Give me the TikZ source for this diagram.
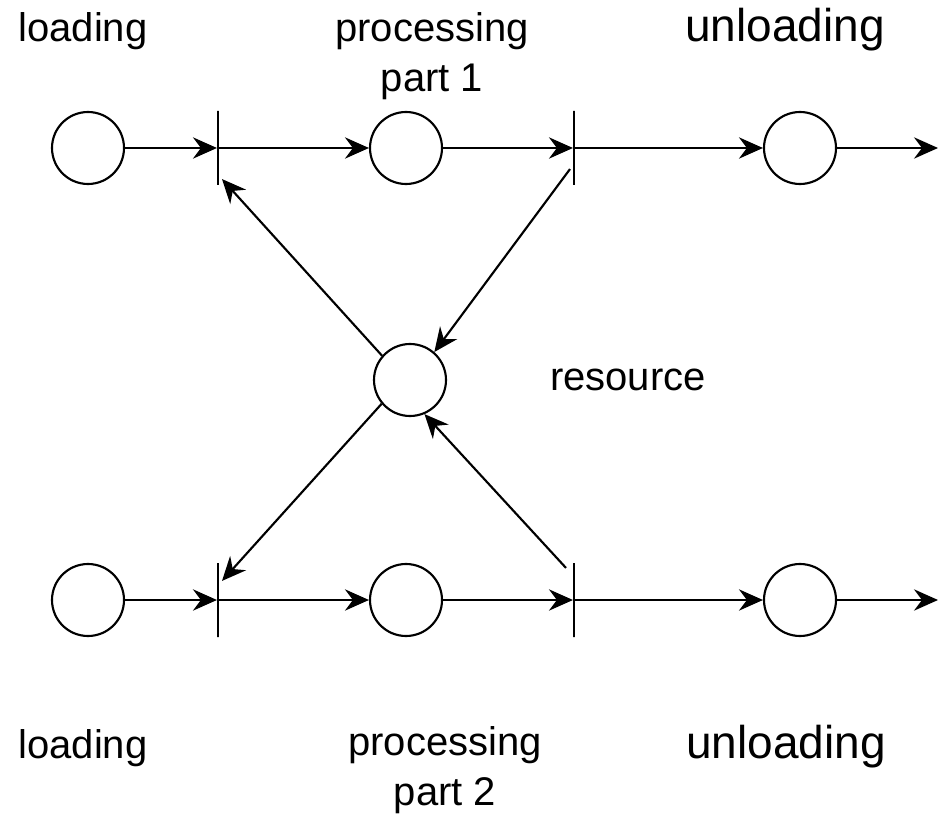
\documentclass[tikz,border=0pt]{standalone}
\usepackage{fontspec}
\setmainfont{Liberation Sans}
\usetikzlibrary{arrows.meta,calc}
\begin{document}
\begin{tikzpicture}[x=0.75pt,y=-0.75pt,
  line width=1.6pt,
  place/.style={circle,draw,minimum size=54pt,inner sep=0pt},
  trans/.style={rectangle,draw,minimum width=0pt,minimum height=55.5pt,inner sep=0pt},
  arr/.style={-{Stealth[length=18pt,width=16pt,inset=6pt]}},
  lbl/.style={font=\fontsize{30}{37.5}\selectfont,align=center,anchor=base,inner sep=0pt},
  biglbl/.style={font=\fontsize{34.5}{42}\selectfont,anchor=base,inner sep=0pt}]
\useasboundingbox (0,0) rectangle (938,816);
% top row
\node[place] (p1) at (88,148) {};
\node[trans] (t1) at (218,148) {};
\node[place] (p2) at (406,148) {};
\node[trans] (t2) at (574,148) {};
\node[place] (p3) at (800,148) {};
\coordinate (o1) at (938,148);
% bottom row
\node[place] (q1) at (88,600) {};
\node[trans] (u1) at (218,600) {};
\node[place] (q2) at (406,600) {};
\node[trans] (u2) at (574,600) {};
\node[place] (q3) at (800,600) {};
\coordinate (o2) at (938,600);
% resource
\node[place] (res) at (410,380) {};
% horizontal arcs
\draw[arr] (p1) -- (t1);
\draw[arr] (t1) -- (p2);
\draw[arr] (p2) -- (t2);
\draw[arr] (t2) -- (p3);
\draw[arr] (p3) -- (o1);
\draw[arr] (q1) -- (u1);
\draw[arr] (u1) -- (q2);
\draw[arr] (q2) -- (u2);
\draw[arr] (u2) -- (q3);
\draw[arr] (q3) -- (o2);
% resource arcs
\draw[arr] (res.139) -- ($(t1.south)+(4,-7)$);
\draw[arr] ($(t2.south)+(-4,-17)$) -- (res.49);
\draw[arr] (res.-140) -- ($(u1.north)+(4,19)$);
\draw[arr] ($(u2.north)+(-8,6)$) -- (res.-67);
% labels
\node[lbl] (l1) at (83,42) {loading};
\node[lbl] (l2) at (432,92) {processing\\part 1};
\node[biglbl] (l3) at (785,42) {unloading};
\node[lbl] (l4) at (628,390) {resource};
\node[lbl] (l5) at (83,758) {loading};
\node[lbl] (l6) at (445,805) {processing\\part 2};
\node[biglbl] (l7) at (786,758) {unloading};
\end{tikzpicture}
\end{document}
